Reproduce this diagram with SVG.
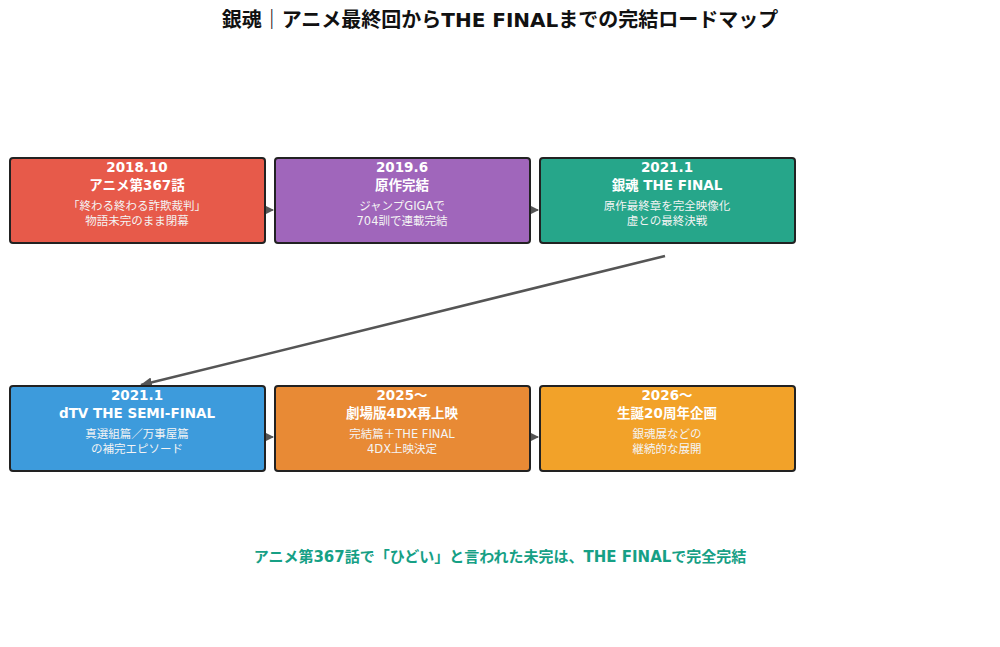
<svg xmlns="http://www.w3.org/2000/svg" width="1000" height="647" viewBox="0 0 1000 647">
<style>
text{font-family:"DejaVu Sans","Noto Sans CJK JP",sans-serif;text-anchor:middle}
.t{font-size:20px;font-weight:bold;fill:#111}
.h{font-size:13.5px;font-weight:bold;fill:#fff}
.b{font-size:11.5px;fill:#f4f4f4}
.box{stroke:#222;stroke-width:2}
.c{stroke:#555;stroke-width:2.5;fill:none}
.s{stroke:#555;stroke-width:1.5;fill:none}
.f{font-size:15px;font-weight:bold;fill:#16a085}
</style>
<defs>
<marker id="a" markerWidth="8" markerHeight="8" refX="7" refY="4" orient="auto" markerUnits="userSpaceOnUse"><path d="M0,0L8,4L0,8z" fill="#555"/></marker>
<marker id="m" markerWidth="12" markerHeight="10" refX="11" refY="5" orient="auto" markerUnits="userSpaceOnUse"><path d="M0,0L12,5L0,10z" fill="#555"/></marker>
</defs>
<rect width="1000" height="647" fill="#fff"/>
<text class="t" x="500" y="27">銀魂｜アニメ最終回からTHE FINALまでの完結ロードマップ</text>
<g id="connectors">
<line class="s" x1="265" y1="210" x2="273" y2="210" marker-end="url(#a)"/>
<line class="s" x1="530" y1="210" x2="538" y2="210" marker-end="url(#a)"/>
<line class="c" x1="665" y1="256" x2="141" y2="385" marker-end="url(#m)"/>
<line class="s" x1="265" y1="437" x2="273" y2="437" marker-end="url(#a)"/>
<line class="s" x1="530" y1="437" x2="538" y2="437" marker-end="url(#a)"/>
</g>
<g id="n1"><rect class="box" x="10" y="158" width="255" height="85" rx="3" fill="#e75a4a"/><text class="h" x="137" y="172">2018.10</text><text class="h" x="137" y="190">アニメ第367話</text><text class="b" x="137" y="210">「終わる終わる詐欺裁判」</text><text class="b" x="137" y="225">物語未完のまま閉幕</text></g>
<g id="n2"><rect class="box" x="275" y="158" width="255" height="85" rx="3" fill="#a066bb"/><text class="h" x="402" y="172">2019.6</text><text class="h" x="402" y="190">原作完結</text><text class="b" x="402" y="210">ジャンプGIGAで</text><text class="b" x="402" y="225">704訓で連載完結</text></g>
<g id="n3"><rect class="box" x="540" y="158" width="255" height="85" rx="3" fill="#26a68a"/><text class="h" x="667" y="172">2021.1</text><text class="h" x="667" y="190">銀魂 THE FINAL</text><text class="b" x="667" y="210">原作最終章を完全映像化</text><text class="b" x="667" y="225">虚との最終決戦</text></g>
<g id="n4"><rect class="box" x="10" y="386" width="255" height="85" rx="3" fill="#3d9bdc"/><text class="h" x="137" y="400">2021.1</text><text class="h" x="137" y="418">dTV THE SEMI-FINAL</text><text class="b" x="137" y="438">真選組篇／万事屋篇</text><text class="b" x="137" y="453">の補完エピソード</text></g>
<g id="n5"><rect class="box" x="275" y="386" width="255" height="85" rx="3" fill="#e88a35"/><text class="h" x="402" y="400">2025～</text><text class="h" x="402" y="418">劇場版4DX再上映</text><text class="b" x="402" y="438">完結篇＋THE FINAL</text><text class="b" x="402" y="453">4DX上映決定</text></g>
<g id="n6"><rect class="box" x="540" y="386" width="255" height="85" rx="3" fill="#f2a229"/><text class="h" x="667" y="400">2026～</text><text class="h" x="667" y="418">生誕20周年企画</text><text class="b" x="667" y="438">銀魂展などの</text><text class="b" x="667" y="453">継続的な展開</text></g>
<text class="f" x="500" y="562">アニメ第367話で「ひどい」と言われた未完は、THE FINALで完全完結</text>
</svg>
